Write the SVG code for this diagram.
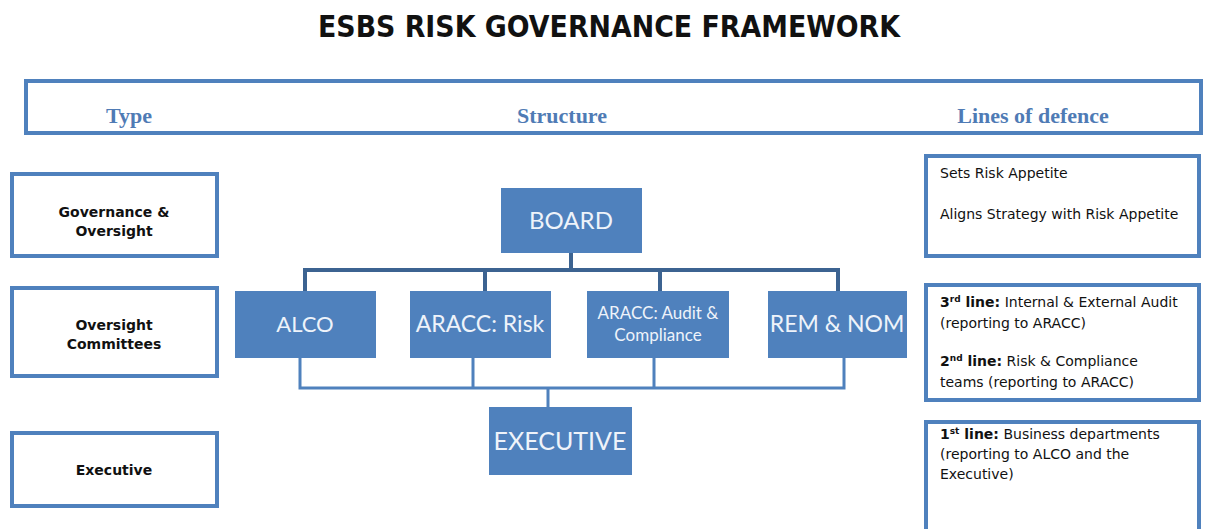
<svg xmlns="http://www.w3.org/2000/svg" width="1218" height="529" viewBox="0 0 1218 529">
  <style>
    .title { font-family: "DejaVu Sans", Verdana, sans-serif; font-weight: bold; font-size: 31px; fill: #111; }
    .head { font-family: "Liberation Serif", "DejaVu Serif", serif; font-weight: bold; font-size: 22px; fill: #4f7bb5; }
    .frame { fill: #fff; stroke: #4f81bd; stroke-width: 4; }
    .typetxt { font-family: "DejaVu Sans", Verdana, sans-serif; font-weight: bold; font-size: 14px; fill: #111; text-anchor: middle; }
    .org { fill: #4f81bd; }
    .orgtxt { font-family: Lato, "Open Sans", sans-serif; fill: #eef3fa; text-anchor: middle; }
    .deftxt { font-family: "DejaVu Sans", Verdana, sans-serif; font-size: 14px; fill: #111; }
    .b { font-weight: bold; }
    .sup { font-size: 9px; font-weight: bold; }
    .conn-top { fill: none; stroke: #3c6391; stroke-width: 4; }
    .conn-low { fill: none; stroke: #4f81bd; stroke-width: 3; }
  </style>

  <rect width="1218" height="529" fill="#fff"/>

  <text class="title" x="609" y="37" text-anchor="middle" textLength="582" lengthAdjust="spacingAndGlyphs">ESBS RISK GOVERNANCE FRAMEWORK</text>

  <!-- column header band -->
  <g id="header">
    <rect class="frame" x="26" y="81" width="1175" height="52"/>
    <text class="head" x="129" y="123" text-anchor="middle">Type</text>
    <text class="head" x="562" y="123" text-anchor="middle">Structure</text>
    <text class="head" x="1033" y="123" text-anchor="middle">Lines of defence</text>
  </g>

  <!-- type column -->
  <g id="type-governance">
    <rect class="frame" x="12" y="174" width="205" height="82"/>
    <text class="typetxt" x="114" y="217">Governance &amp;</text>
    <text class="typetxt" x="114" y="236">Oversight</text>
  </g>
  <g id="type-committees">
    <rect class="frame" x="12" y="288" width="205" height="88"/>
    <text class="typetxt" x="114" y="330">Oversight</text>
    <text class="typetxt" x="114" y="349">Committees</text>
  </g>
  <g id="type-executive">
    <rect class="frame" x="12" y="433" width="205" height="73"/>
    <text class="typetxt" x="114" y="475">Executive</text>
  </g>

  <!-- connectors -->
  <g id="connectors">
    <path class="conn-top" d="M571 253 V270 M305 292 V270 H838 V292 M485 270 V292 M660 270 V292"/>
    <path class="conn-low" d="M300 358 V388 H844 V358 M473 358 V388 M654 358 V388 M548 388 V408"/>
  </g>

  <!-- structure -->
  <g id="board">
    <rect class="org" x="501" y="188" width="141" height="65"/>
    <text class="orgtxt" x="571" y="229" font-size="24">BOARD</text>
  </g>
  <g id="alco">
    <rect class="org" x="235" y="291" width="141" height="67"/>
    <text class="orgtxt" x="305" y="332" font-size="22">ALCO</text>
  </g>
  <g id="aracc-risk">
    <rect class="org" x="410" y="291" width="141" height="67"/>
    <text class="orgtxt" x="480" y="332" font-size="23">ARACC: Risk</text>
  </g>
  <g id="aracc-audit">
    <rect class="org" x="587" y="291" width="142" height="67"/>
    <text class="orgtxt" x="658" y="319" font-size="17">ARACC: Audit &amp;</text>
    <text class="orgtxt" x="658" y="341" font-size="17">Compliance</text>
  </g>
  <g id="rem-nom">
    <rect class="org" x="768" y="291" width="139" height="67"/>
    <text class="orgtxt" x="837" y="332" font-size="23">REM &amp; NOM</text>
  </g>
  <g id="executive">
    <rect class="org" x="489" y="407" width="143" height="68"/>
    <text class="orgtxt" x="560" y="450" font-size="25">EXECUTIVE</text>
  </g>

  <!-- lines of defence column -->
  <g id="defence-board">
    <rect class="frame" x="926" y="156" width="273" height="100"/>
    <text class="deftxt" x="940" y="178">Sets Risk Appetite</text>
    <text class="deftxt" x="940" y="219">Aligns Strategy with Risk Appetite</text>
  </g>
  <g id="defence-committees">
    <rect class="frame" x="926" y="285" width="273" height="115"/>
    <text class="deftxt" x="940" y="307"><tspan class="b">3</tspan><tspan class="sup" dy="-5">rd</tspan><tspan class="b" dy="5"> line:</tspan> Internal &amp; External Audit</text>
    <text class="deftxt" x="940" y="328">(reporting to ARACC)</text>
    <text class="deftxt" x="940" y="366"><tspan class="b">2</tspan><tspan class="sup" dy="-5">nd</tspan><tspan class="b" dy="5"> line:</tspan> Risk &amp; Compliance</text>
    <text class="deftxt" x="940" y="387">teams (reporting to ARACC)</text>
  </g>
  <g id="defence-executive">
    <rect class="frame" x="926" y="422" width="273" height="112"/>
    <text class="deftxt" x="940" y="439"><tspan class="b">1</tspan><tspan class="sup" dy="-5">st</tspan><tspan class="b" dy="5"> line:</tspan> Business departments</text>
    <text class="deftxt" x="940" y="459">(reporting to ALCO and the</text>
    <text class="deftxt" x="940" y="479">Executive)</text>
  </g>
</svg>
